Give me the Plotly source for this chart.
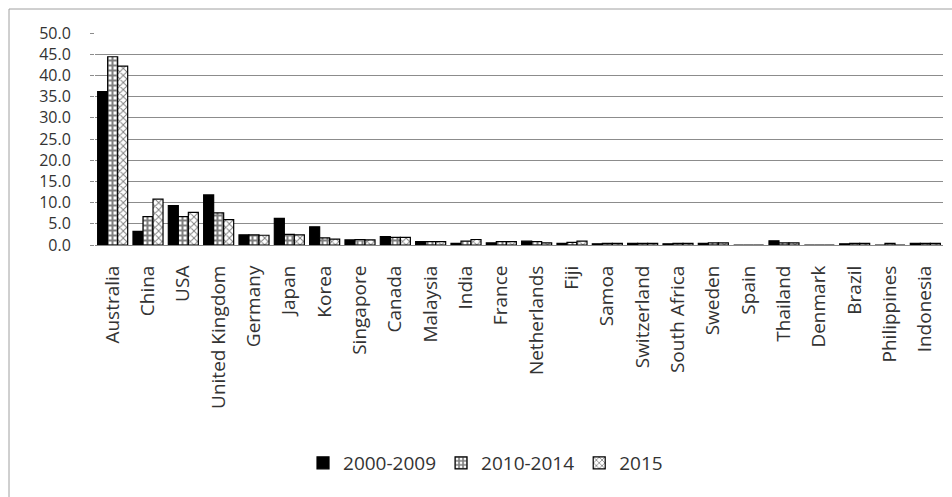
import plotly.graph_objects as go

countries = ["Australia", "China", "USA", "United Kingdom", "Germany", "Japan", "Korea",
             "Singapore", "Canada", "Malaysia", "India", "France", "Netherlands", "Fiji",
             "Samoa", "Switzerland", "South Africa", "Sweden", "Spain", "Thailand",
             "Denmark", "Brazil", "Philippines", "Indonesia"]
s2000_2009 = [36.2, 3.2, 9.3, 11.8, 2.4, 6.3, 4.3, 1.2, 2.0, 0.8, 0.4, 0.5, 0.9, 0.4,
              0.3, 0.4, 0.3, 0.4, 0.0, 1.0, 0.0, 0.3, 0.0, 0.4]
s2010_2014 = [44.4, 6.7, 6.7, 7.6, 2.4, 2.5, 1.7, 1.3, 1.8, 0.8, 0.9, 0.8, 0.8, 0.6,
              0.4, 0.4, 0.4, 0.5, 0.0, 0.5, 0.0, 0.4, 0.4, 0.4]
s2015 = [42.2, 10.8, 7.7, 6.0, 2.3, 2.4, 1.4, 1.2, 1.8, 0.8, 1.3, 0.8, 0.5, 0.9,
         0.4, 0.4, 0.4, 0.5, 0.0, 0.5, 0.0, 0.4, 0.0, 0.4]
series_names = ["2000-2009", "2010-2014", "2015"]
y_ticks = [0, 5, 10, 15, 20, 25, 30, 35, 40, 45, 50]

FONT = "Open Sans"
W, H = 952, 497
L, R, T, B = 95, 9, 33, 252

fig = go.Figure()
fig.add_trace(go.Bar(x=countries, y=s2000_2009, name=series_names[0],
                     marker=dict(color="black", line=dict(color="black", width=1.2))))
fig.add_trace(go.Bar(x=countries, y=s2010_2014, name=series_names[1],
                     marker=dict(color="white", line=dict(color="black", width=1.2),
                                 pattern=dict(shape="+", fgcolor="black", bgcolor="white",
                                              size=5, solidity=0.65))))
fig.add_trace(go.Bar(x=countries, y=s2015, name=series_names[2],
                     marker=dict(color="white", line=dict(color="black", width=1.2),
                                 pattern=dict(shape="x", fgcolor="black", bgcolor="white",
                                              size=5, solidity=0.35))))

pw = W - L - R
ph = H - T - B
def px_x(x):
    return (x - L) / pw
def px_y(y):
    return (H - B - y) / ph

fig.update_layout(
    width=W, height=H,
    margin=dict(l=L, r=R, t=T, b=B, autoexpand=False),
    paper_bgcolor="white", plot_bgcolor="white",
    barmode="group", bargap=0.15, bargroupgap=0.0,
    font=dict(family=FONT, color="#333333", size=17),
    showlegend=True,
    legend=dict(orientation="h", xref="container", yref="container",
                x=0.51, xanchor="center", y=(H - 463) / H, yanchor="middle",
                font=dict(size=19, family=FONT, color="#333333"),
                itemwidth=30, tracegroupgap=0),
    xaxis=dict(tickangle=-90, tickfont=dict(size=19, family=FONT, color="#333333"),
               showgrid=False, showline=True, linecolor="#888888", linewidth=1,
               ticks="", ticklabelstandoff=12, automargin=False),
    yaxis=dict(range=[0, 50], tickvals=y_ticks, tickformat=".1f",
               showgrid=True, gridcolor="#8c8c8c", gridwidth=1,
               zeroline=False, ticks="outside", ticklen=4, tickcolor="#8c8c8c",
               tickfont=dict(size=16, family=FONT, color="#333333"),
               ticklabelstandoff=16, automargin=False),
    shapes=[dict(type="rect", xref="paper", yref="paper",
                 x0=px_x(9), x1=px_x(980), y0=px_y(520), y1=px_y(9),
                 line=dict(color="#a0a0a0", width=1), fillcolor="rgba(0,0,0,0)",
                 layer="below")],
)

fig.write_html("out.html")
